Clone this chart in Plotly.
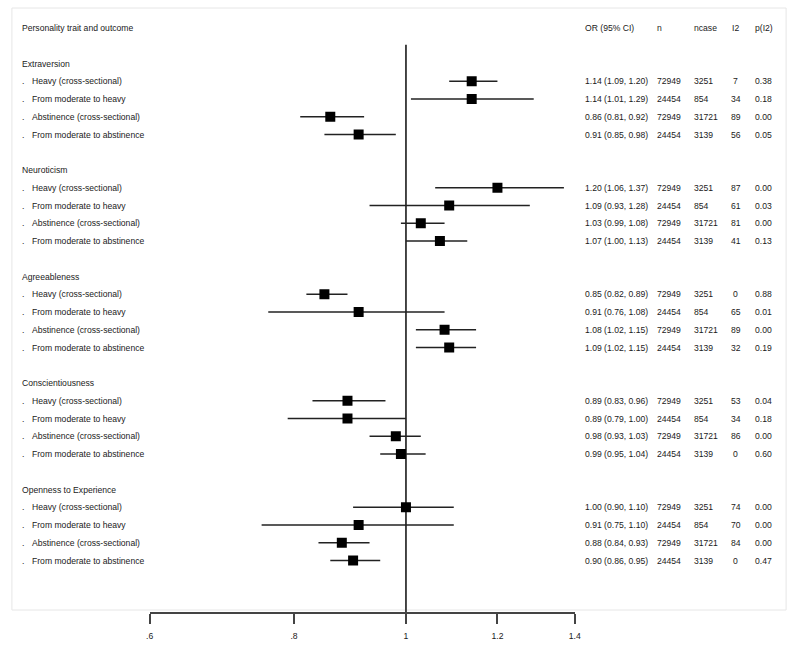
import math
import plotly.graph_objects as go

traits = ["Extraversion", "Neuroticism", "Agreeableness", "Conscientiousness", "Openness to Experience"]
outcomes = ["Heavy (cross-sectional)", "From moderate to heavy",
            "Abstinence (cross-sectional)", "From moderate to abstinence"]

or_est = [1.14, 1.14, 0.86, 0.91,
          1.20, 1.09, 1.03, 1.07,
          0.85, 0.91, 1.08, 1.09,
          0.89, 0.89, 0.98, 0.99,
          1.00, 0.91, 0.88, 0.90]
ci_low = [1.09, 1.01, 0.81, 0.85,
          1.06, 0.93, 0.99, 1.00,
          0.82, 0.76, 1.02, 1.02,
          0.83, 0.79, 0.93, 0.95,
          0.90, 0.75, 0.84, 0.86]
ci_high = [1.20, 1.29, 0.92, 0.98,
           1.37, 1.28, 1.08, 1.13,
           0.89, 1.08, 1.15, 1.15,
           0.96, 1.00, 1.03, 1.04,
           1.10, 1.10, 0.93, 0.95]
n_vals = [72949, 24454, 72949, 24454] * 5
ncase_vals = [3251, 854, 31721, 3139] * 5
i2_vals = [7, 34, 89, 56,
           87, 61, 81, 41,
           0, 65, 89, 32,
           53, 34, 86, 0,
           74, 70, 84, 0]
p_i2 = [0.38, 0.18, 0.00, 0.05,
        0.00, 0.03, 0.00, 0.13,
        0.88, 0.01, 0.00, 0.19,
        0.04, 0.18, 0.00, 0.60,
        0.00, 0.00, 0.00, 0.47]

tick_vals = [0.6, 0.8, 1.0, 1.2, 1.4]
tick_text = [".6", ".8", "1", "1.2", "1.4"]

W, H = 800, 645
FONT = "Liberation Sans, Arial, sans-serif"
FS = 8.6
TXT = "#1a1a1a"

# row layout: header row 0, blank, trait label, 4 items, blank, ...
row_y = []
trait_y = []
r = 2
for t in range(len(traits)):
    trait_y.append(r)
    for k in range(len(outcomes)):
        row_y.append(r + 1 + k)
    r += 6

fig = go.Figure()

# CI lines
lx, ly = [], []
for i in range(len(or_est)):
    lx += [ci_low[i], ci_high[i], None]
    ly += [row_y[i], row_y[i], None]
fig.add_trace(go.Scatter(x=lx, y=ly, mode="lines",
                         line=dict(color="#222222", width=1.3),
                         hoverinfo="skip", showlegend=False))
fig.add_trace(go.Scatter(x=or_est, y=row_y, mode="markers",
                         marker=dict(symbol="square", size=10, color="#000000",
                                     line=dict(width=0)),
                         showlegend=False))

# null line
fig.add_shape(type="line", xref="x", yref="y", x0=1, x1=1, y0=0.95, y1=32.9,
              line=dict(color="#333333", width=1.8), layer="below")
# faint frame
fig.add_shape(type="rect", xref="paper", yref="paper",
              x0=8 / W, x1=792 / W, y0=1 - 610 / H, y1=1 - 8 / H,
              line=dict(color="#e6e6e6", width=1), layer="below")

def px(x):
    return x / W

ann = []
def txt(x, y, s, align="left"):
    ann.append(dict(x=px(x), y=y, xref="paper", yref="y", text=s, showarrow=False,
                    xanchor=align, yanchor="middle",
                    font=dict(family=FONT, size=FS, color=TXT)))

# header (x positions are annotation box edges; text sits ~2px inside)
txt(16, 0, "Personality trait and outcome")
txt(586, 0, "OR (95% CI)")
txt(659, 0, "n")
txt(697, 0, "ncase")
txt(741, 0, "I2", "center")
txt(758, 0, "p(I2)")

for t, name in enumerate(traits):
    txt(16, trait_y[t], name)
for i in range(len(or_est)):
    y = row_y[i]
    txt(16, y, ".")
    txt(26, y, outcomes[i % 4])
    txt(586, y, f"{or_est[i]:.2f} ({ci_low[i]:.2f}, {ci_high[i]:.2f})")
    txt(659, y, str(n_vals[i]))
    txt(697, y, str(ncase_vals[i]))
    txt(741, y, str(i2_vals[i]), "center")
    txt(758, y, f"{p_i2[i]:.2f}")

row_h = 17.75
top_px = 28
bottom_px = 612
y_bottom = (bottom_px - top_px) / row_h
y_top = -top_px / row_h

fig.update_layout(
    width=W, height=H,
    margin=dict(l=0, r=0, t=0, b=0),
    paper_bgcolor="white", plot_bgcolor="white",
    annotations=ann,
    xaxis=dict(type="log", domain=[147.5 / W, 578 / W],
               range=[math.log10(0.6), math.log10(1.4)],
               tickvals=tick_vals, ticktext=tick_text,
               ticks="outside", ticklen=10, tickwidth=1.8, tickcolor="#444444",
               ticklabelstandoff=5,
               showline=True, linecolor="#444444", linewidth=2,
               showgrid=False, zeroline=False,
               tickfont=dict(family=FONT, size=FS, color=TXT),
               fixedrange=True),
    yaxis=dict(domain=[1 - bottom_px / H, 1],
               range=[y_bottom, y_top],
               showticklabels=False, showgrid=False, zeroline=False,
               showline=False, ticks="", fixedrange=True),
    showlegend=False,
)

fig.write_html("out.html",
               config={"displayModeBar": False},
               post_script="document.body.style.margin='0';document.body.style.overflow='hidden';")
